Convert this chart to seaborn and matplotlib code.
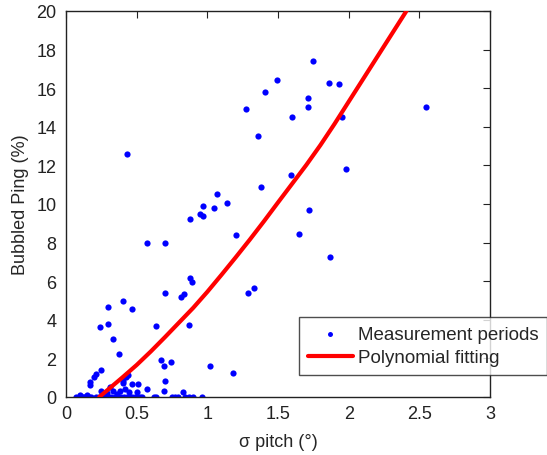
import numpy as np
import pandas as pd
import seaborn as sns
import matplotlib.pyplot as plt

# measurement periods (sigma pitch in degrees, bubbled ping in %)
sigma_pitch = [
    0.43, 1.27, 1.41, 1.49, 1.71, 1.71, 1.60, 1.36, 1.59, 1.38,
    1.07, 1.14, 0.97, 1.05, 1.75, 1.86, 1.93, 2.55, 1.95, 1.98,
    0.95, 0.97, 0.88, 1.72, 1.65, 1.20, 0.57, 0.70, 0.88, 0.89,
    0.70, 0.835, 0.816, 1.29, 1.33, 1.87, 0.40, 0.30, 0.47, 0.24,
    0.295, 0.64, 0.87, 0.335, 0.377, 0.675, 0.694, 0.743, 1.02, 1.18,
    0.70, 0.69, 0.25, 0.21, 0.20, 0.17, 0.17, 0.425, 0.44, 0.40,
    0.40, 0.465, 0.51, 0.57, 0.42, 0.33, 0.31, 0.446, 0.50, 0.25,
    0.83, 0.29, 0.36, 0.38,
    # points sitting on zero
    0.07, 0.09, 0.12, 0.13, 0.165, 0.18, 0.21, 0.23, 0.25, 0.27,
    0.29, 0.30, 0.32, 0.35, 0.37, 0.39, 0.41, 0.43, 0.45, 0.47,
    0.49, 0.50, 0.52, 0.54, 0.62, 0.635, 0.75, 0.77, 0.79, 0.84,
    0.87, 0.90, 0.96, 0.10, 0.15, 0.28,
]
bubbled_ping = [
    12.6, 14.9, 15.8, 16.4, 15.5, 15.0, 14.5, 13.5, 11.5, 10.9,
    10.5, 10.05, 9.9, 9.8, 17.4, 16.25, 16.2, 15.0, 14.5, 11.8,
    9.5, 9.4, 9.2, 9.7, 8.46, 8.4, 8.0, 8.0, 6.17, 5.97,
    5.4, 5.34, 5.16, 5.4, 5.65, 7.27, 4.97, 4.66, 4.54, 3.61,
    3.78, 3.68, 3.73, 2.99, 2.25, 1.93, 1.62, 1.81, 1.62, 1.26,
    0.81, 0.31, 1.4, 1.17, 1.05, 0.76, 0.6, 1.02, 1.15, 0.85,
    0.7, 0.66, 0.66, 0.4, 0.41, 0.33, 0.52, 0.24, 0.24, 0.33,
    0.24, 0.2, 0.15, 0.3,
    0.0, 0.0, 0.0, 0.0, 0.0, 0.0, 0.0, 0.0, 0.0, 0.0,
    0.0, 0.0, 0.0, 0.0, 0.0, 0.0, 0.0, 0.0, 0.0, 0.0,
    0.0, 0.0, 0.0, 0.0, 0.0, 0.0, 0.0, 0.0, 0.0, 0.0,
    0.0, 0.0, 0.0, 0.08, 0.1, 0.1,
]

# polynomial fitting curve
fit_x = [0.235, 0.3, 0.4, 0.5, 0.6, 0.7, 0.8, 0.9, 1.0, 1.1, 1.2, 1.3,
         1.4, 1.5, 1.6, 1.7, 1.8, 1.9, 2.0, 2.1, 2.2, 2.3, 2.4, 2.45]
fit_y = [0.0, 0.40, 1.02, 1.66, 2.36, 3.10, 3.86, 4.62, 5.45, 6.33, 7.23, 8.15,
         9.10, 10.08, 11.05, 12.02, 13.05, 14.15, 15.30, 16.45, 17.6, 18.75, 19.9, 20.5]

df = pd.DataFrame({"sigma": sigma_pitch, "ping": bubbled_ping})
fit = pd.DataFrame({"x": fit_x, "y": fit_y})

sns.set_style("white")
plt.rcParams["font.family"] = ["Liberation Sans", "DejaVu Sans"]

fig = plt.figure(figsize=(5.47, 4.56), dpi=100)
ax = fig.add_axes([0.1207, 0.1272, 0.7751, 0.8465])

sns.scatterplot(data=df, x="sigma", y="ping", ax=ax, color="#0000ff",
                s=20, linewidth=0, label="Measurement periods", zorder=2)
sns.lineplot(data=fit, x="x", y="y", ax=ax, color="#ff0000", linewidth=3,
             sort=False, label="Polynomial fitting", zorder=3)

ax.set_xlim(0, 3)
ax.set_ylim(0, 20)
ax.set_xticks([0, 0.5, 1, 1.5, 2, 2.5, 3])
ax.set_xticklabels(["0", "0.5", "1", "1.5", "2", "2.5", "3"])
ax.set_yticks(range(0, 21, 2))
ax.tick_params(direction="in", length=5, width=0.8, top=True, right=True,
               labelsize=13, colors="#222222")
ax.tick_params(axis="x", pad=6)
ax.tick_params(axis="y", pad=7)
for s in ax.spines.values():
    s.set_color("#222222")
    s.set_linewidth(1.0)

ax.set_xlabel("σ pitch (°)", fontsize=13, labelpad=8)
ax.set_ylabel("Bubbled Ping (%)", fontsize=13, labelpad=5)

leg = ax.legend(loc="upper left", bbox_to_anchor=(0.55, 0.207), fontsize=13.5,
                frameon=True, fancybox=False, edgecolor="#222222",
                handlelength=2.4, borderpad=0.45, labelspacing=0.35,
                handletextpad=0.3, borderaxespad=0, markerscale=0.8)
leg.get_frame().set_linewidth(1.0)

fig.savefig("out.png", dpi=100)
